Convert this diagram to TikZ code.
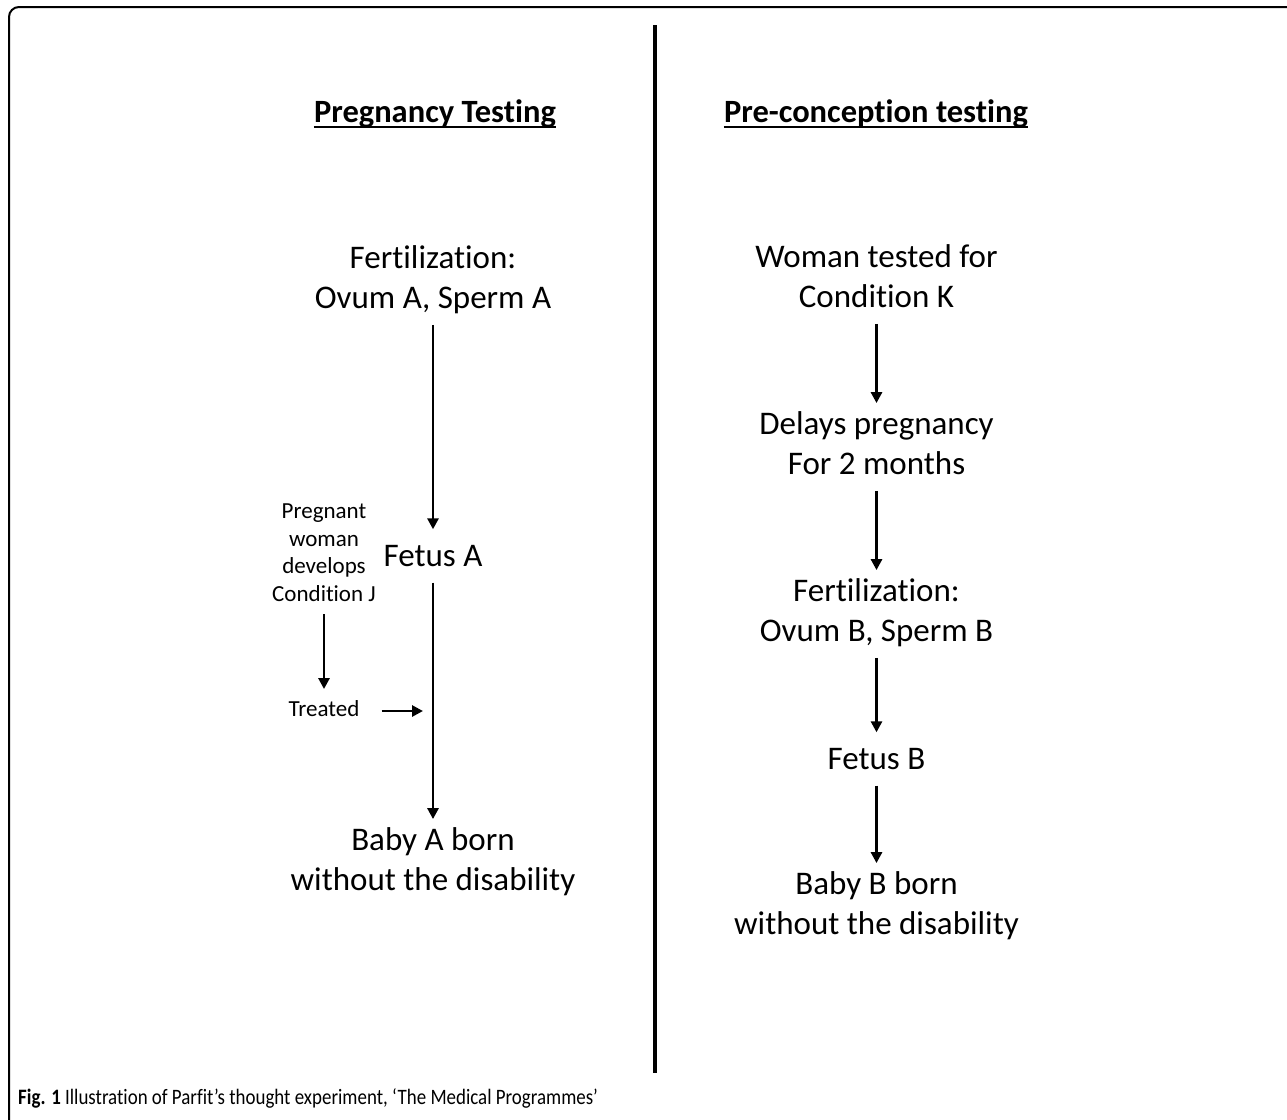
\documentclass[tikz,border=0pt]{standalone}
\usepackage{fontspec}
\setmainfont{Carlito}[Ligatures=NoCommon]
\newfontfamily\capfont[FakeStretch=0.86,Ligatures=NoCommon]{Carlito}
\usetikzlibrary{arrows.meta}

\newlength{\du}
\setlength{\du}{1pt}
\newcommand{\tallstrut}{\rule[-11.5\du]{0pt}{40\du}}
\newcommand{\shortstrut}{\rule[-8\du]{0pt}{27.5\du}}

\tikzset{
  flow/.style={-{Triangle[width=11pt,length=11pt]}, line width=2.7\du, shorten >=3\du},
  bigtxt/.style={align=center, inner xsep=4\du, inner ysep=5\du,
    font=\fontsize{33}{40}\selectfont,
    execute at begin node=\tallstrut, execute at end node=\tallstrut},
  smalltxt/.style={align=center, inner xsep=4\du, inner ysep=5\du,
    font=\fontsize{23}{27.5}\selectfont,
    execute at begin node=\shortstrut, execute at end node=\shortstrut},
  headtxt/.style={inner sep=0pt, anchor=base, font=\fontsize{32.5}{38}\selectfont\bfseries},
  uline/.style={line width=2.4\du}
}

\begin{document}
\begin{tikzpicture}[x=1\du,y=-1\du]
\useasboundingbox (0,0) rectangle (1287,1119);
% frame and divider
\draw[line width=2\du, rounded corners=10\du] (1300,7) -- (9,7) -- (9,1130) -- (40,1130);
\coordinate (divtop) at (655,25);
\coordinate (divbot) at (655,1073);
\draw[line width=4\du] (divtop) -- (divbot);

% headings
\node[headtxt] (headA) at (435,122) {Pregnancy Testing};
\node[headtxt] (headB) at (876,122) {Pre-conception testing};
\draw[uline] ([yshift=-5\du]headA.base west) -- ([yshift=-5\du]headA.base east);
\draw[uline] ([yshift=-5\du]headB.base west) -- ([yshift=-5\du]headB.base east);

% pregnancy testing
\node[bigtxt] (fertA) at (433,282.5) {Fertilization:\\Ovum A, Sperm A};
\node[bigtxt] (fetusA) at (433,557.5) {Fetus A};
\node[bigtxt] (babyA) at (433,864.5) {Baby A born\\without the disability};
\node[smalltxt] (condJ) at (324,556.5) {Pregnant\\woman\\develops\\Condition J};
\node[smalltxt] (treated) at (324,711) {Treated};
\coordinate (hitA) at (426,711);

\draw[flow] (fertA) -- (fetusA);
\draw[flow] (fetusA) -- (babyA);
\draw[flow] (condJ) -- (treated);
\draw[flow, shorten <=18\du] (treated) -- (hitA);

% pre-conception testing
\node[bigtxt] (womanK) at (876.5,281.5) {Woman tested for\\Condition K};
\node[bigtxt] (delay) at (876.5,448.5) {Delays pregnancy\\For 2 months};
\node[bigtxt] (fertB) at (876.5,615.5) {Fertilization:\\Ovum B, Sperm B};
\node[bigtxt] (fetusB) at (876.5,760.5) {Fetus B};
\node[bigtxt] (babyB) at (876.5,908.5) {Baby B born\\without the disability};

\draw[flow] (womanK) -- (delay);
\draw[flow] (delay) -- (fertB);
\draw[flow] (fertB) -- (fetusB);
\draw[flow] (fetusB) -- (babyB);

% caption
\node[anchor=base west, inner sep=0pt, font=\capfont\fontsize{22}{26}\selectfont] (caption) at (18,1104)
  {{\bfseries Fig. 1} Illustration of Parfit’s thought experiment, ‘The Medical Programmes’};
\end{tikzpicture}
\end{document}
